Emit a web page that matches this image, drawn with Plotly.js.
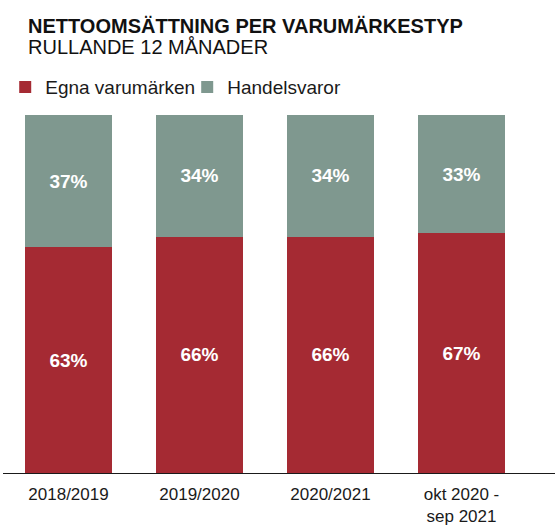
<!DOCTYPE html>
<html>
<head>
<meta charset="utf-8">
<script src="https://cdn.plot.ly/plotly-3.0.1.min.js"></script>
<style>html,body{margin:0;padding:0;background:#fff;}#chart{width:555px;height:526px;}</style>
</head>
<body>
<div id="chart"></div>
<script>
var categories = ["2018/2019", "2019/2020", "2020/2021", "okt 2020 -<br>sep 2021"];
var egna = [63, 66, 66, 67];
var handel = [37, 34, 34, 33];
var seriesNames = ["Egna varumärken", "Handelsvaror"];
var titleText = "NETTOOMSÄTTNING PER VARUMÄRKESTYP";
var subtitleText = "RULLANDE 12 MÅNADER";

var FONT = "Liberation Sans, Arial, sans-serif";
var RED = "#a52a33";
var GRAY = "#7f988f";

var traces = [
  {type: "bar", name: seriesNames[0], x: categories, y: egna,
   marker: {color: RED}, texttemplate: "<b>%{y}%</b>", textposition: "inside",
   insidetextanchor: "middle", textfont: {color: "#fff", size: 19, family: FONT},
   hoverinfo: "skip"},
  {type: "bar", name: seriesNames[1], x: categories, y: handel,
   marker: {color: GRAY}, texttemplate: "<b>%{y}%</b>", textposition: "inside",
   insidetextanchor: "middle", textfont: {color: "#fff", size: 19, family: FONT},
   hoverinfo: "skip"}
];

var layout = {
  width: 555, height: 526,
  margin: {l: 3, r: 0, t: 115, b: 53, pad: 0, autoexpand: false},
  paper_bgcolor: "#fff", plot_bgcolor: "#fff",
  barmode: "stack", bargap: 0.336,
  font: {family: FONT, color: "#1a1a1a"},
  showlegend: true,
  legend: {orientation: "h", x: 0.004, xanchor: "left", y: 1.025, yanchor: "bottom",
           yref: "paper", font: {size: 19, family: FONT, color: "#1a1a1a"},
           traceorder: "normal", itemwidth: 30, tracegroupgap: 0,
           entrywidth: 137, entrywidthmode: "pixels"},
  xaxis: {range: [-0.5, 3.714], showline: true, linecolor: "#1a1a1a", linewidth: 1.3,
          ticks: "", ticklabelstandoff: 5, tickfont: {size: 17, family: FONT, color: "#1a1a1a"},
          showgrid: false, zeroline: false, fixedrange: true},
  yaxis: {range: [0, 100], visible: false, showgrid: false, zeroline: false, fixedrange: true},
  annotations: [
    {text: "<b>" + titleText + "</b>", xref: "paper", yref: "paper", x: 0.042, y: (473-26)/358,
     xanchor: "left", yanchor: "middle", showarrow: false, font: {size: 20, family: FONT, color: "#111"}},
    {text: subtitleText, xref: "paper", yref: "paper", x: 0.042, y: (473-47)/358,
     xanchor: "left", yanchor: "middle", showarrow: false, font: {size: 20, family: FONT, color: "#111"}}
  ]
};

Plotly.newPlot("chart", traces, layout, {displayModeBar: false, staticPlot: true});
</script>
</body>
</html>
